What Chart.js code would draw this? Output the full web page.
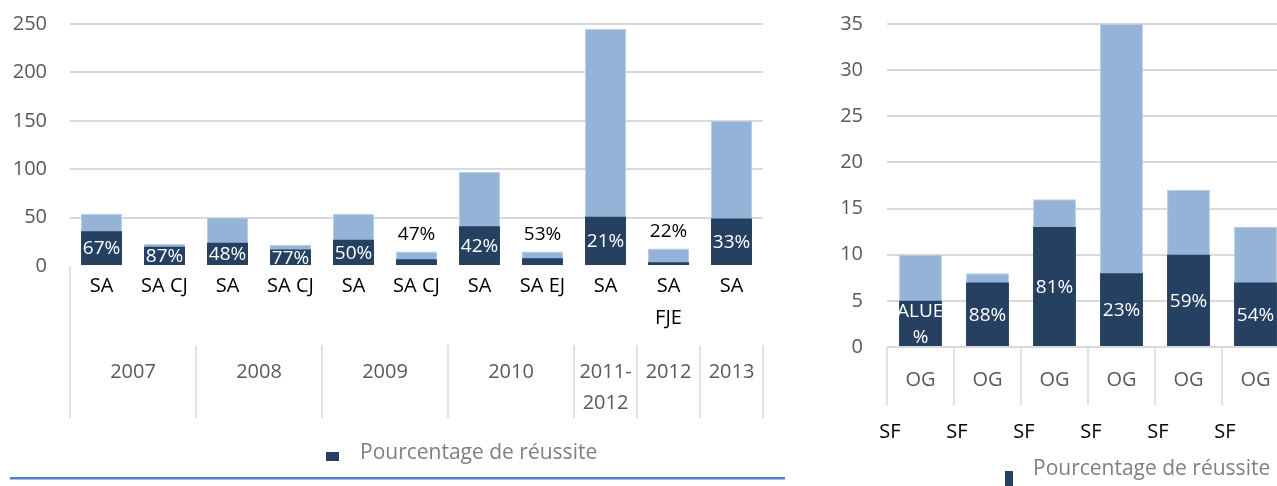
<!DOCTYPE html>
<html lang="fr">
<head>
  <meta charset="UTF-8" />
  <title>Pourcentage de réussite</title>
  <script src="https://cdn.jsdelivr.net/npm/chart.js"></script>
  <style>
    html, body { margin: 0; padding: 0; background: #fff; }
    body { width: 1277px; height: 486px; overflow: hidden; position: relative; font-family: "Open Sans", sans-serif; }
    canvas { position: absolute; top: 0; }
    #chartGauche { left: 0; }
    #chartDroite { left: 820px; }
    .legende { position: absolute; font-size: 21px; color: #7f7f7f; line-height: 24px; white-space: nowrap; }
    .legende span { position: absolute; background: #254061; }
    #trait { position: absolute; left: 10px; top: 477px; width: 775px; height: 2px; background: #4f81bd; border-bottom: 1px solid #a7c0e0; }
  </style>
</head>
<body>
  <canvas id="chartGauche" width="790" height="441"></canvas>
  <canvas id="chartDroite" width="500" height="486"></canvas>

  <div class="legende" style="left:360px; top:439px;"><span style="left:-34px; top:13px; width:13px; height:9px;"></span>Pourcentage de réussite</div>
  <div class="legende" style="left:1033px; top:455px;"><span style="left:-28px; top:16px; width:8px; height:15px;"></span>Pourcentage de réussite</div>
  <div id="trait"></div>

  <script>
    // graphique de gauche
    const categoriesGauche = ['SA', 'SA CJ', 'SA', 'SA CJ', 'SA', 'SA CJ', 'SA', 'SA EJ', 'SA', ['SA', 'FJE'], 'SA'];
    const anneesGauche = ['2007', '2008', '2009', '2010', ['2011-', '2012'], '2012', '2013'];
    const spansGauche = [2, 2, 2, 2, 1, 1, 1];
    const inscritsGauche = [54, 23, 50, 22, 54, 15, 97, 15, 245, 18, 150];
    const reussisGauche = [36, 20, 24, 17, 27, 7, 41, 8, 51, 4, 49];
    const tauxGauche = ['67%', '87%', '48%', '77%', '50%', '47%', '42%', '53%', '21%', '22%', '33%'];
    const maxGauche = 250, pasGauche = 50;

    // graphique de droite
    const categoriesDroite = ['OG', 'OG', 'OG', 'OG', 'OG', 'OG'];
    const groupesDroite = ['SF', 'SF', 'SF', 'SF', 'SF', 'SF'];
    const inscritsDroite = [10, 8, 16, 35, 17, 13];
    const reussisDroite = [5, 7, 13, 8, 10, 7];
    const tauxDroite = ['[VALUE]%', '88%', '81%', '23%', '59%', '54%'];
    const maxDroite = 35, pasDroite = 5;

    const FONCE = '#254061';
    const CLAIR = '#95b3d7';
    const GRILLE = '#d9d9d9';

    Chart.defaults.font.family = '"Open Sans", sans-serif';
    Chart.defaults.font.size = 20;

    // étiquettes de pourcentage sur les barres foncées
    const etiquettes = {
      id: 'etiquettes',
      afterDatasetsDraw(chart, args, opts) {
        const { ctx, chartArea } = chart;
        const fonce = chart.getDatasetMeta(0).data;
        const clair = chart.getDatasetMeta(1).data;
        ctx.save();
        ctx.font = '19px "Open Sans"';
        ctx.textAlign = 'center';
        ctx.textBaseline = 'middle';
        fonce.forEach((bar, i) => {
          const txt = opts.labels[i];
          const h = bar.base - bar.y;
          const w = bar.width;
          if (h < 12) {
            ctx.fillStyle = '#000';
            ctx.fillText(txt, bar.x, Math.min(bar.y, clair[i].y) - 17);
            return;
          }
          let lignes = [txt];
          if (ctx.measureText(txt).width > w) lignes = [txt.slice(0, -1), txt.slice(-1)];
          ctx.save();
          ctx.beginPath();
          ctx.rect(bar.x - w / 2, chartArea.top, w, chartArea.bottom - chartArea.top);
          ctx.clip();
          ctx.fillStyle = '#fff';
          const cy = (bar.y + bar.base) / 2 + 1;
          lignes.forEach((l, k) => {
            // texte trop large : coupé par la barre, comme dans l'original
            const dx = ctx.measureText(l).width > w ? -6 : 0;
            ctx.fillText(l, bar.x + dx, cy + (k - (lignes.length - 1) / 2) * 26);
          });
          ctx.restore();
        });
        ctx.restore();
      }
    };

    // second niveau de l'axe des x (années) à gauche
    const axeAnnees = {
      id: 'axeAnnees',
      afterDraw(chart) {
        const { ctx, chartArea } = chart;
        const x = chart.scales.x;
        const pas = x.getPixelForValue(1) - x.getPixelForValue(0);
        const bord = i => x.getPixelForValue(i) - pas / 2;
        ctx.save();
        ctx.strokeStyle = GRILLE;
        ctx.lineWidth = 1.5;
        ctx.beginPath();
        ctx.moveTo(bord(0), chartArea.bottom);
        ctx.lineTo(bord(0), 418);
        let i = 0;
        spansGauche.forEach(s => {
          i += s;
          ctx.moveTo(bord(i), 345);
          ctx.lineTo(bord(i), 418);
        });
        ctx.stroke();
        ctx.fillStyle = '#595959';
        ctx.font = '20px "Open Sans"';
        ctx.textAlign = 'center';
        ctx.textBaseline = 'middle';
        i = 0;
        anneesGauche.forEach((a, k) => {
          const cx = (bord(i) + bord(i + spansGauche[k])) / 2;
          const lignes = Array.isArray(a) ? a : [a];
          lignes.forEach((l, n) => ctx.fillText(l, cx, 372 + n * 31));
          i += spansGauche[k];
        });
        ctx.restore();
      }
    };

    // séparateurs et second niveau (SF) à droite
    const axeDroite = {
      id: 'axeDroite',
      afterDraw(chart) {
        const { ctx, chartArea } = chart;
        const x = chart.scales.x;
        const pas = x.getPixelForValue(1) - x.getPixelForValue(0);
        const bord = i => x.getPixelForValue(i) - pas / 2;
        ctx.save();
        ctx.strokeStyle = GRILLE;
        ctx.lineWidth = 1.5;
        ctx.beginPath();
        for (let i = 0; i <= categoriesDroite.length; i++) {
          ctx.moveTo(bord(i), chartArea.bottom);
          ctx.lineTo(bord(i), 405);
        }
        ctx.stroke();
        ctx.fillStyle = '#000';
        ctx.font = '20px "Open Sans"';
        ctx.textAlign = 'center';
        ctx.textBaseline = 'middle';
        groupesDroite.forEach((g, i) => ctx.fillText(g, bord(i) + 3, 432));
        ctx.restore();
      }
    };

    function config(labels, inscrits, reussis, taux, max, pas, opts) {
      return {
        type: 'bar',
        data: {
          labels: labels,
          datasets: [
            { label: 'Pourcentage de réussite', data: reussis, backgroundColor: FONCE,
              barPercentage: opts.barre, categoryPercentage: 1 },
            { label: 'Inscrits', data: inscrits, backgroundColor: CLAIR, borderColor: '#b8cce4', borderWidth: 1,
              barPercentage: opts.barre, categoryPercentage: 1 }
          ]
        },
        options: {
          responsive: false,
          animation: false,
          layout: { padding: { top: 24, right: opts.droite, left: 0, bottom: 0 } },
          plugins: {
            legend: { display: false },
            tooltip: { enabled: false },
            etiquettes: { labels: taux }
          },
          scales: {
            x: {
              stacked: true,
              grid: { display: false },
              border: { display: false },
              ticks: { color: opts.couleurX, padding: opts.padX, autoSkip: false, maxRotation: 0,
                font: { size: 20, lineHeight: opts.interligne } },
              afterFit(s) { s.height = opts.hauteurX; s.paddingLeft = 0; s.paddingRight = 0; }
            },
            y: {
              min: 0, max: max,
              ticks: { stepSize: pas, color: '#595959', padding: opts.padY, font: { size: 20 } },
              grid: { lineWidth: 2, drawTicks: false,
                color: c => (c.tick.value === 0 && !opts.zero) ? 'rgba(0,0,0,0)' : GRILLE },
              border: { display: false },
              afterFit(s) { s.width = opts.largeurY; s.paddingTop = 0; s.paddingBottom = 0; }
            }
          }
        },
        plugins: [etiquettes, opts.axe]
      };
    }

    new Chart(document.getElementById('chartGauche'),
      config(categoriesGauche, inscritsGauche, reussisGauche, tauxGauche, maxGauche, pasGauche, {
        barre: 0.65, droite: 27, couleurX: '#000', padX: -4, interligne: 1.6, hauteurX: 175,
        padY: 23, largeurY: 70, zero: false, axe: axeAnnees
      }));

    new Chart(document.getElementById('chartDroite'),
      config(categoriesDroite, inscritsDroite, reussisDroite, tauxDroite, maxDroite, pasDroite, {
        barre: 0.64, droite: 31, couleurX: '#595959', padX: 13, interligne: 1.2, hauteurX: 139,
        padY: 24, largeurY: 67, zero: true, axe: axeDroite
      }));
  </script>
</body>
</html>
